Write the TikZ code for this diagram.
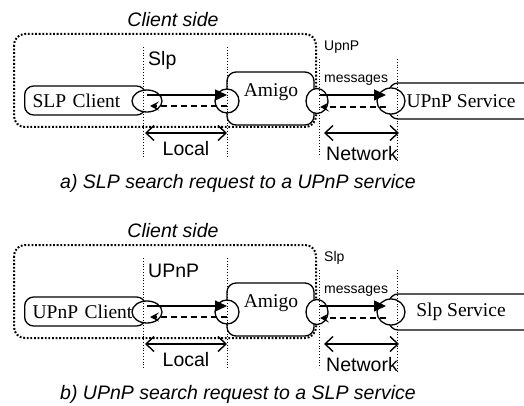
\documentclass[tikz,border=0pt]{standalone}
\usepackage{fontspec}
\setmainfont{Liberation Serif}
\setsansfont{Liberation Sans}
\usetikzlibrary{arrows.meta,shapes.geometric}
\begin{document}
\begin{tikzpicture}[x=1pt,y=-1pt,
  box/.style={draw,line width=1.3pt,rounded corners=9pt},
  port/.style={draw,ellipse,line width=1.3pt,fill=white,inner sep=0pt},
  lbl/.style={font=\fontsize{19.5}{20}\selectfont},
  tag/.style={font=\sffamily\fontsize{19.5}{20}\selectfont,inner sep=1pt},
  ital/.style={font=\sffamily\itshape\fontsize{19.5}{20}\selectfont,inner sep=1pt},
  small/.style={font=\sffamily\fontsize{14}{15}\selectfont,inner sep=1pt,anchor=west},
  side/.style={draw,line width=2pt,dash pattern=on 1.8pt off 1.8pt,rounded corners=11pt},
  cut/.style={line width=0.8pt,dash pattern=on 1pt off 1.8pt},
  req/.style={line width=1.4pt,-{Triangle[length=12pt,width=11pt]}},
  resp/.style={line width=1.4pt,dash pattern=on 6pt off 4pt,-{Stealth[length=9pt,width=9pt,inset=4pt]}},
  span/.style={line width=1.4pt,{Straight Barb[length=8pt,width=15pt]}-{Straight Barb[length=8pt,width=15pt]}}]
\useasboundingbox (0,0) rectangle (524,406);
\foreach \p/\dy/\cln/\srv/\lproto/\rproto/\capt in
  {a/0/SLP Client/UPnP Service/Slp/UpnP/{a) SLP search request to a UPnP service},
   b/211/UPnP Client/Slp Service/UPnP/Slp/{b) UPnP search request to a SLP service}}
{
\begin{scope}[shift={(0,\dy)}]
% client side frame
\draw[side] (14,34) rectangle (316,127);
\node (cs\p) [ital] at (173,20) {Client side};
% boxes
\node (cl\p) [box,lbl,anchor=west,minimum height=29pt,text width=105pt,
  align=left,inner xsep=8pt] at (24,100.5) {\cln};
\node (am\p) [box,minimum width=87pt,minimum height=53pt] at (270.5,98.5) {};
\node (amt\p) [lbl] at (271,92) {Amigo};
\draw[box] (530,83) -- (389,83) -- (389,119) -- (530,119);
\node (sv\p) [lbl] at (461,101) {\srv};
% ports
\node (pa\p) [port,minimum width=30pt,minimum height=22pt] at (147,101) {};
\node (pb\p) [port,minimum width=24pt,minimum height=24pt] at (227,101) {};
\node (pc\p) [port,minimum width=22pt,minimum height=25pt] at (317,101) {};
\node (pd\p) [port,minimum width=28pt,minimum height=26pt] at (391,101) {};
% borders
\draw[cut] (143,47) -- (143,157);
\draw[cut] (227,47) -- (227,157);
\draw[cut] (319,59) -- (319,157);
\draw[cut] (397,59) -- (397,160);
% messages
\draw[req] ([yshift=6pt]pa\p.center) -- ([yshift=6pt]pb\p.center);
\draw[resp] ([yshift=-5pt]pb\p.center) -- ([shift={(3,5)}]pa\p.center);
\draw[req] ([shift={(3,-6)}]pc\p.center) -- ([shift={(-5,-6)}]pd\p.center);
\draw[resp] ([shift={(-5,6)}]pd\p.center) -- ([shift={(3,6)}]pc\p.center);
% spans
\coordinate (la\p) at (145,133);
\coordinate (lb\p) at (227,133);
\coordinate (na\p) at (324,133);
\coordinate (nb\p) at (399,133);
\draw[span] (la\p) -- (lb\p);
\draw[span] (na\p) -- (nb\p);
\node (lo\p) [tag] at (186,149) {Local};
\node (nw\p) [tag] at (362,154) {Network};
% labels
\node (lp\p) [tag,anchor=west] at (147,60) {\lproto};
\node (rp\p) [small] at (323,47) {\rproto};
\node (ms\p) [small] at (323,80) {messages};
\node (cp\p) [ital] at (238,183) {\capt};
\end{scope}
}
\end{tikzpicture}
\end{document}
